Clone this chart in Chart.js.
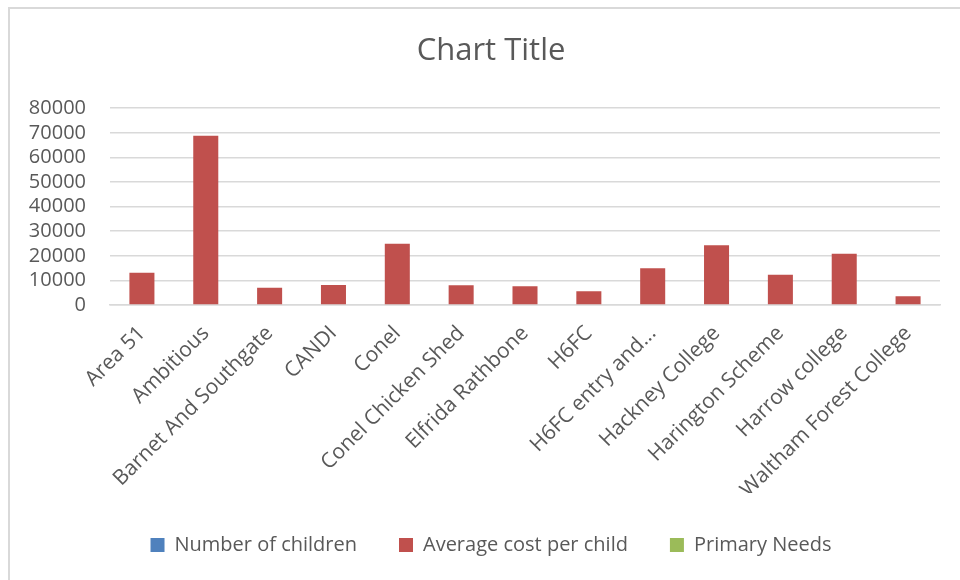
<!DOCTYPE html>
<html>
<head>
<meta charset="utf-8">
<script src="https://cdn.jsdelivr.net/npm/chart.js@4.4.1/dist/chart.umd.min.js"></script>
<style>
  html, body { margin: 0; padding: 0; background: #fff; overflow: hidden; }
  #frame {
    position: absolute; left: 8px; top: 7px; width: 1000px; height: 620px;
    border-left: 2px solid #d9d9d9; border-top: 2px solid #d9d9d9;
  }
  #wrap { position: absolute; left: 0; top: 0; width: 982px; height: 580px; }
</style>
</head>
<body>
<div id="frame"></div>
<div id="wrap"><canvas id="chart"></canvas></div>
<script>
// 類別 (x 軸)
const categories = [
    'Area 51', 'Ambitious', 'Barnet And Southgate', 'CANDI', 'Conel',
    'Conel Chicken Shed', 'Elfrida Rathbone', 'H6FC', 'H6FC entry and...',
    'Hackney College', 'Harington Scheme', 'Harrow college', 'Waltham Forest College'
];
// 各系列數值 (只有平均成本可見)
const numberOfChildren = [null, null, null, null, null, null, null, null, null, null, null, null, null];
const averageCostPerChild = [13100, 68800, 7050, 8100, 24900, 8000, 7600, 5550, 14900, 24300, 12300, 20800, 3550];
const primaryNeeds = [null, null, null, null, null, null, null, null, null, null, null, null, null];
// y 軸刻度
const yTicks = [0, 10000, 20000, 30000, 40000, 50000, 60000, 70000, 80000];

const textColor = '#595959';
const fontFamily = '"Open Sans", "Noto Sans", sans-serif';

const ctx = document.getElementById('chart').getContext('2d');
new Chart(ctx, {
    type: 'bar',
    data: {
        labels: categories,
        datasets: [
            { label: 'Number of children', data: numberOfChildren, backgroundColor: '#4F81BD' },
            { label: 'Average cost per child', data: averageCostPerChild, backgroundColor: '#C0504D' },
            { label: 'Primary Needs', data: primaryNeeds, backgroundColor: '#9BBB59' }
        ]
    },
    options: {
        responsive: true,
        maintainAspectRatio: false,
        animation: false,
        devicePixelRatio: 1,
        grouped: false,
        categoryPercentage: 1,
        barPercentage: 0.392,
        layout: { padding: { left: 0, right: 0, top: 0, bottom: 15 } },
        plugins: {
            title: {
                display: true,
                text: 'Chart Title',
                color: textColor,
                font: { family: fontFamily, size: 31, weight: 'normal' },
                padding: { top: 33, bottom: 38 }
            },
            legend: {
                position: 'bottom',
                labels: {
                    color: textColor,
                    font: { family: fontFamily, size: 20 },
                    boxWidth: 14,
                    boxHeight: 14,
                    padding: 42
                }
            },
            tooltip: { enabled: false }
        },
        scales: {
            x: {
                grid: { display: false, drawTicks: false },
                border: { display: true, color: '#d9d9d9', width: 1.5 },
                ticks: {
                    color: textColor,
                    font: { family: fontFamily, size: 21 },
                    maxRotation: 45,
                    minRotation: 45,
                    autoSkip: false,
                    padding: 16
                },
                afterFit: function(scale) { scale.height = 188; }
            },
            y: {
                min: 0,
                max: 80000,
                afterBuildTicks: function(scale) {
                    scale.ticks = yTicks.map(v => ({ value: v }));
                },
                grid: { color: '#d9d9d9', lineWidth: 1.5, drawTicks: false },
                border: { display: false },
                ticks: {
                    color: textColor,
                    font: { family: fontFamily, size: 20 },
                    padding: 24,
                    autoSkip: false,
                    callback: function(value) { return String(value); }
                },
                afterFit: function(scale) { scale.width = 110; }
            },
            // 右側留白用的空軸
            yRight: {
                position: 'right',
                min: 0,
                max: 1,
                grid: { display: false, drawTicks: false },
                border: { display: false },
                ticks: { display: false },
                afterFit: function(scale) { scale.width = 42; }
            }
        }
    }
});
</script>
</body>
</html>
